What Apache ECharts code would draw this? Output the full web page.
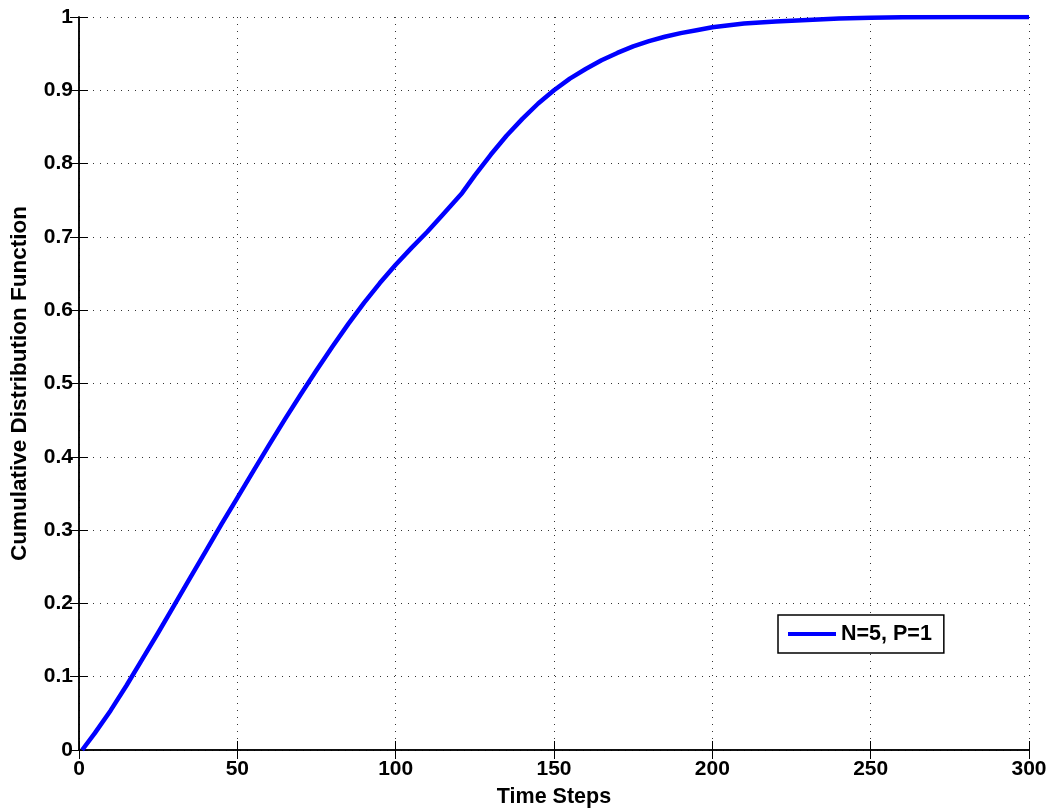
<!DOCTYPE html>
<html>
<head>
<meta charset="utf-8">
<script src="https://cdn.jsdelivr.net/npm/echarts@6/dist/echarts.min.js"></script>
<style>
  html, body { margin: 0; padding: 0; background: #fff; }
  #chart { width: 1060px; height: 809px; }
</style>
</head>
<body>
<div id="chart"></div>
<script>
// values
const timeSteps = [1, 5, 10, 15, 20, 25, 30, 35, 40, 45, 50, 55, 60, 65, 70, 75, 80, 85, 90, 95, 100,
  105, 110, 115, 121, 125, 130, 135, 140, 145, 150, 155, 160, 165, 170, 175, 180, 185, 190, 195, 200,
  210, 220, 230, 240, 250, 260, 280, 300]
const cdfValues = [0, 0.023, 0.054, 0.088, 0.124, 0.16, 0.197, 0.234, 0.271, 0.308, 0.344, 0.38, 0.416, 0.451, 0.485, 0.518, 0.55, 0.581, 0.61, 0.637, 0.662,
  0.685, 0.707, 0.731, 0.76, 0.784, 0.812, 0.838, 0.861, 0.882, 0.9, 0.916, 0.929, 0.941, 0.951, 0.96, 0.967, 0.973, 0.978, 0.982, 0.986,
  0.991, 0.994, 0.996, 0.998, 0.999, 0.9995, 1, 1]
const seriesName = 'N=5, P=1'

const font = 'Liberation Sans, Arial, sans-serif'
const chart = echarts.init(document.getElementById('chart'))

const gridDots = { show: true, lineStyle: { color: '#333', width: 1, type: [1, 6] } }
const tick = { show: true, inside: true, length: 9, lineStyle: { color: '#000', width: 1 } }

chart.setOption({
  animation: false,
  backgroundColor: '#fff',
  grid: { left: 79, right: 31, top: 17, bottom: 59, containLabel: false, outerBoundsMode: 'none' },
  legend: {
    left: 778, top: 615,
    padding: [8, 12, 8, 10],
    backgroundColor: '#fff',
    borderColor: '#000', borderWidth: 1.5,
    icon: 'rect', itemWidth: 48, itemHeight: 4, itemGap: 5,
    textStyle: { fontFamily: font, fontWeight: 'bold', fontSize: 21.5, color: '#000' },
    data: [seriesName]
  },
  xAxis: [{
    type: 'value', min: 0, max: 300, interval: 50,
    name: 'Time Steps', nameLocation: 'middle', nameGap: 36,
    nameTextStyle: { fontFamily: font, fontWeight: 'bold', fontSize: 21.5, color: '#000' },
    axisLine: { show: true, lineStyle: { color: '#000', width: 1.5 } },
    axisTick: tick,
    axisLabel: { fontFamily: font, fontWeight: 'bold', fontSize: 21, color: '#000', margin: 9 },
    splitLine: gridDots
  }, {
    type: 'value', min: 0, max: 300, interval: 50, position: 'top',
    axisLine: { show: true, lineStyle: { color: '#000', width: 1.5 } },
    axisTick: tick, axisLabel: { show: false }, splitLine: { show: false }
  }],
  yAxis: [{
    type: 'value', min: 0, max: 1, interval: 0.1,
    name: 'Cumulative Distribution Function', nameLocation: 'middle', nameGap: 48,
    nameTextStyle: { fontFamily: font, fontWeight: 'bold', fontSize: 22.5, color: '#000' },
    axisLine: { show: true, lineStyle: { color: '#000', width: 1.5 } },
    axisTick: tick,
    axisLabel: { fontFamily: font, fontWeight: 'bold', fontSize: 21, color: '#000', margin: 6 },
    splitLine: gridDots
  }, {
    type: 'value', min: 0, max: 1, interval: 0.1, position: 'right',
    axisLine: { show: true, lineStyle: { color: '#000', width: 1.5 } },
    axisTick: tick, axisLabel: { show: false }, splitLine: { show: false }
  }],
  series: [{
    name: seriesName,
    type: 'line',
    data: timeSteps.map((t, i) => [t, cdfValues[i]]),
    showSymbol: false,
    smooth: false,
    lineStyle: { color: '#0000ff', width: 4.5, join: 'round' },
    itemStyle: { color: '#0000ff' }
  }]
})
</script>
</body>
</html>
